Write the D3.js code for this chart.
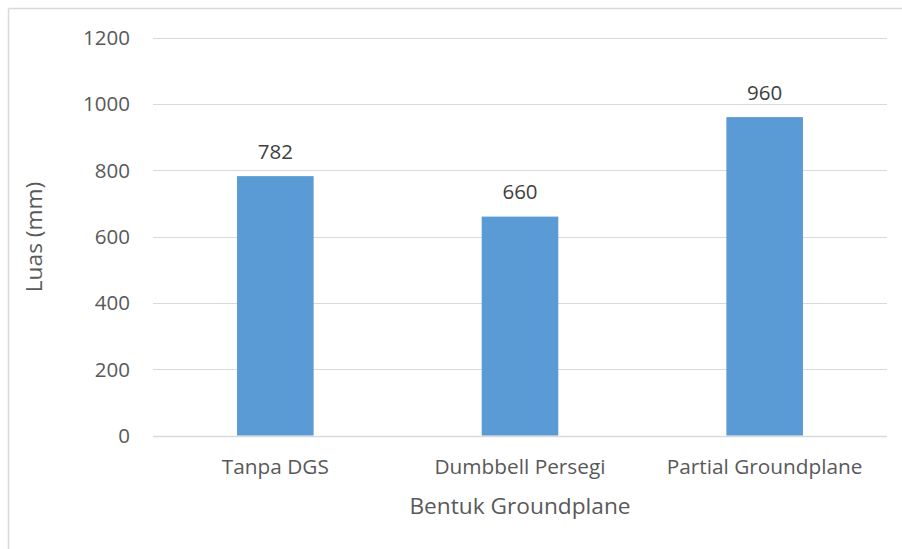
<!DOCTYPE html>
<html><head><meta charset="utf-8">
<script src="https://cdn.jsdelivr.net/npm/d3@7"></script>
<style>body{margin:0;background:#fff}svg{display:block}text{font-family:"Open Sans",sans-serif}</style>
</head><body><svg id="c" width="902" height="549"></svg>
<script>
const categories = ["Tanpa DGS", "Dumbbell Persegi", "Partial Groundplane"];
const values = [782, 660, 960];
const yTicks = [0, 200, 400, 600, 800, 1000, 1200];
const xTitle = "Bentuk Groundplane";
const yTitle = "Luas (mm)";

(function () {
const svg = d3.select("#c");
const pL = 153, pR = 887, pT = 37.5, pB = 435.5;
const x = d3.scaleBand().domain(categories).range([pL, pR]).padding(0);
const y = d3.scaleLinear().domain([0, 1200]).range([pB, pT]);
const barW = x.bandwidth() * 0.313;

// chart border (left & top visible)
svg.append("line").attr("x1", 8.5).attr("x2", 8.5).attr("y1", 8.5).attr("y2", 549).attr("stroke", "#d9d9d9").attr("stroke-width", 1.5);
svg.append("line").attr("x1", 8.5).attr("x2", 902).attr("y1", 8.5).attr("y2", 8.5).attr("stroke", "#d9d9d9").attr("stroke-width", 1.5);

// gridlines
svg.append("g").selectAll("line").data(yTicks).join("line")
  .attr("x1", pL).attr("x2", pR)
  .attr("y1", d => Math.round(y(d)) + 0.5).attr("y2", d => Math.round(y(d)) + 0.5)
  .attr("stroke", "#d9d9d9").attr("stroke-width", d => d === 0 ? 1.5 : 1.2);

// y tick labels
svg.append("g").selectAll("text").data(yTicks).join("text")
  .attr("x", 130).attr("y", d => y(d)).attr("dy", "0.36em")
  .attr("text-anchor", "end").attr("font-size", 20.5).attr("fill", "#595959")
  .text(d => d);

// bars
svg.append("g").selectAll("rect").data(values).join("rect")
  .attr("x", (d, i) => x(categories[i]) + x.bandwidth() / 2 - barW / 2)
  .attr("width", barW)
  .attr("y", d => y(d)).attr("height", d => y(0) - y(d))
  .attr("fill", "#5b9bd5");

// data labels
svg.append("g").selectAll("text").data(values).join("text")
  .attr("x", (d, i) => x(categories[i]) + x.bandwidth() / 2)
  .attr("y", d => y(d) - 17.5)
  .attr("text-anchor", "middle").attr("font-size", 20.5).attr("fill", "#404040")
  .text(d => d);

// category labels
svg.append("g").selectAll("text").data(categories).join("text")
  .attr("x", d => x(d) + x.bandwidth() / 2).attr("y", pB + 38.5)
  .attr("text-anchor", "middle").attr("font-size", 20.8).attr("fill", "#595959")
  .text(d => d);

// axis titles
svg.append("text").attr("x", 520).attr("y", 514).attr("text-anchor", "middle")
  .attr("font-size", 22.7).attr("fill", "#595959").text(xTitle);
svg.append("text").attr("transform", "translate(42,237) rotate(-90)").attr("text-anchor", "middle")
  .attr("font-size", 22.7).attr("fill", "#595959").text(yTitle);
})();
</script></body></html>
